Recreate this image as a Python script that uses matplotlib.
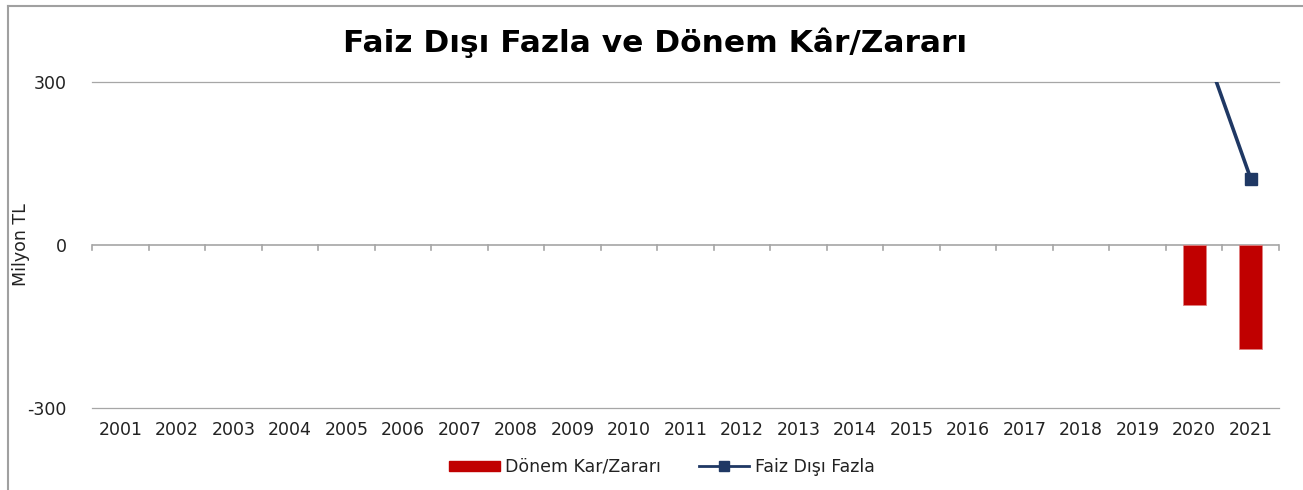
import matplotlib.pyplot as plt
import numpy as np
from matplotlib.lines import Line2D
from matplotlib.patches import Patch

# years on the category axis
years = [str(y) for y in range(2001, 2022)]

# net profit/loss (bars) and non-interest surplus (line), million TL
donem_kar = [np.nan] * 19 + [-110, -191]
faiz_disi = [np.nan] * 19 + [415, 122]

plt.rcParams['font.family'] = ['DejaVu Sans']

fig = plt.figure(figsize=(13.03, 4.90), dpi=100)
ax = fig.add_axes([0.0706, 0.1673, 0.9110, 0.6654])

x = np.arange(len(years))

# bars for period profit/loss
ax.bar(x, donem_kar, width=0.41, color='#C00000', edgecolor='#E08080',
       linewidth=0.6, zorder=3)

# line for non-interest surplus
ax.plot(x, faiz_disi, color='#1F3864', linewidth=2.6, marker='s',
        markersize=8, zorder=4)

ax.set_xlim(-0.5, len(years) - 0.5)
ax.set_ylim(-300, 300)
ax.set_yticks([-300, 0, 300])
ax.set_yticklabels(['-300', '0', '300'], fontsize=12.5, color='#222222')

# horizontal gridlines, zero line drawn separately with category ticks
ax.axhline(300, color='#A6A6A6', linewidth=0.9, zorder=1, clip_on=False)
ax.axhline(-300, color='#A6A6A6', linewidth=0.9, zorder=1, clip_on=False)
ax.axhline(0, color='#A6A6A6', linewidth=1.2, zorder=2)
for b in np.arange(-0.5, len(years), 1.0):
    ax.plot([b, b], [0, -9], color='#A6A6A6', linewidth=1.2, zorder=2,
            clip_on=False)

for s in ax.spines.values():
    s.set_visible(False)
ax.tick_params(axis='y', length=0, pad=18)
ax.tick_params(axis='x', length=0, pad=9)
ax.set_xticks(x)
ax.set_xticklabels(years, fontsize=12.5, color='#222222')

ax.set_ylabel('Milyon TL', fontsize=12.5, color='#222222')
ax.yaxis.set_label_coords(-0.052, 0.5)

fig.text(0.503, 0.912, 'Faiz Dışı Fazla ve Dönem Kâr/Zararı',
         ha='center', va='center', fontsize=22.5, fontweight='bold')

# legend: bars first, then the line
handles = [Patch(facecolor='#C00000', edgecolor='#C00000'),
           Line2D([], [], color='#1F3864', linewidth=2, marker='s',
                  markersize=7)]
fig.legend(handles, ['Dönem Kar/Zararı', 'Faiz Dışı Fazla'],
           loc='center', bbox_to_anchor=(0.508, 0.047), ncol=2,
           frameon=False, fontsize=12.5, handlelength=2.9, handleheight=0.5,
           columnspacing=2.2, handletextpad=0.3, labelcolor='#222222')

# chart border (top and left edges visible)
fig.add_artist(Line2D([0.006, 1.0], [0.988, 0.988], transform=fig.transFigure,
                      color='#A0A0A0', linewidth=1.5))
fig.add_artist(Line2D([0.006, 0.006], [0.0, 0.988], transform=fig.transFigure,
                      color='#A0A0A0', linewidth=1.5))

fig.savefig('out.png', dpi=100)
